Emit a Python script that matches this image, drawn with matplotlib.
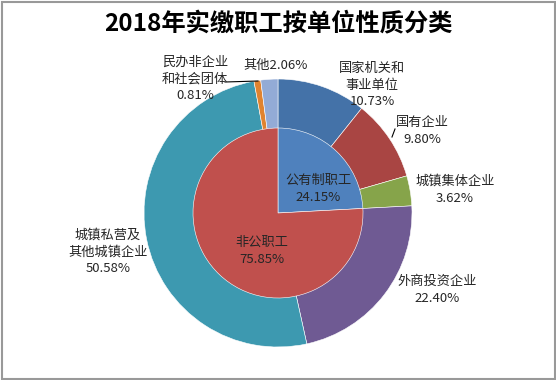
import matplotlib
matplotlib.use("Agg")
import matplotlib.pyplot as plt
from matplotlib.patches import Rectangle

plt.rcParams['font.family'] = ['Noto Sans CJK SC', 'DejaVu Sans']

title = "2018年实缴职工按单位性质分类"
outer_labels = ["国家机关和\n事业单位", "国有企业", "城镇集体企业", "外商投资企业",
                "城镇私营及\n其他城镇企业", "民办非企业\n和社会团体", "其他"]
outer_values = [10.73, 9.80, 3.62, 22.40, 50.58, 0.81, 2.06]
outer_colors = ["#4472A8", "#A94543", "#86A44A", "#6F5A93", "#3D99B0", "#E0832F", "#93ABD6"]
inner_labels = ["公有制职工", "非公职工"]
inner_values = [24.15, 75.85]
inner_colors = ["#4F81BD", "#C0504D"]

W, H = 556, 380
fig = plt.figure(figsize=(W / 100, H / 100), dpi=100)
ax = fig.add_axes([0, 0, 1, 1])

def py(y):
    return H - y

cx, cy = 278, py(213)
R_out, R_in = 134, 85

ax.pie(outer_values, colors=outer_colors, radius=R_out, center=(cx, cy),
       startangle=90, counterclock=False,
       wedgeprops=dict(edgecolor='white', linewidth=0.4), frame=True)
ax.pie(inner_values, colors=inner_colors, radius=R_in, center=(cx, cy),
       startangle=90, counterclock=False,
       wedgeprops=dict(edgecolor='white', linewidth=0.4), frame=True)
ax.set_xlim(0, W)
ax.set_ylim(0, H)
ax.set_aspect('equal')
ax.axis('off')

fs = 9.5
tc = '#262626'
ls = 1.38
outer_pos = [(372, 85), (422, 131), (455, 190), (437, 290), (108, 252), (195, 79), (276, 65)]
for lab, val, (x, y) in zip(outer_labels, outer_values, outer_pos):
    if lab == "其他":
        txt = f"{lab}{val:.2f}%"
    else:
        txt = f"{lab}\n{val:.2f}%"
    ax.text(x, py(y), txt, ha='center', va='center', fontsize=fs, color=tc,
            linespacing=ls)

inner_pos = [(318, 189), (262, 251)]
for lab, val, (x, y) in zip(inner_labels, inner_values, inner_pos):
    ax.text(x, py(y), f"{lab}\n{val:.2f}%", ha='center', va='center', fontsize=fs,
            color=tc, linespacing=ls)

# leader lines
ax.plot([225, 258], [py(82), py(81)], color='black', linewidth=0.8)
ax.plot([392, 395], [py(137), py(129)], color='black', linewidth=0.8)

fig.text(0.5, 1 - 24 / H, title, ha='center', va='center', fontsize=17.5,
         fontweight='bold', color='black')

fig.patches.append(Rectangle((1.5 / W, 1.5 / H), (W - 3) / W, (H - 3) / H,
                             transform=fig.transFigure, fill=False,
                             edgecolor='#999999', linewidth=1.5))

fig.savefig("out.png", dpi=100)
